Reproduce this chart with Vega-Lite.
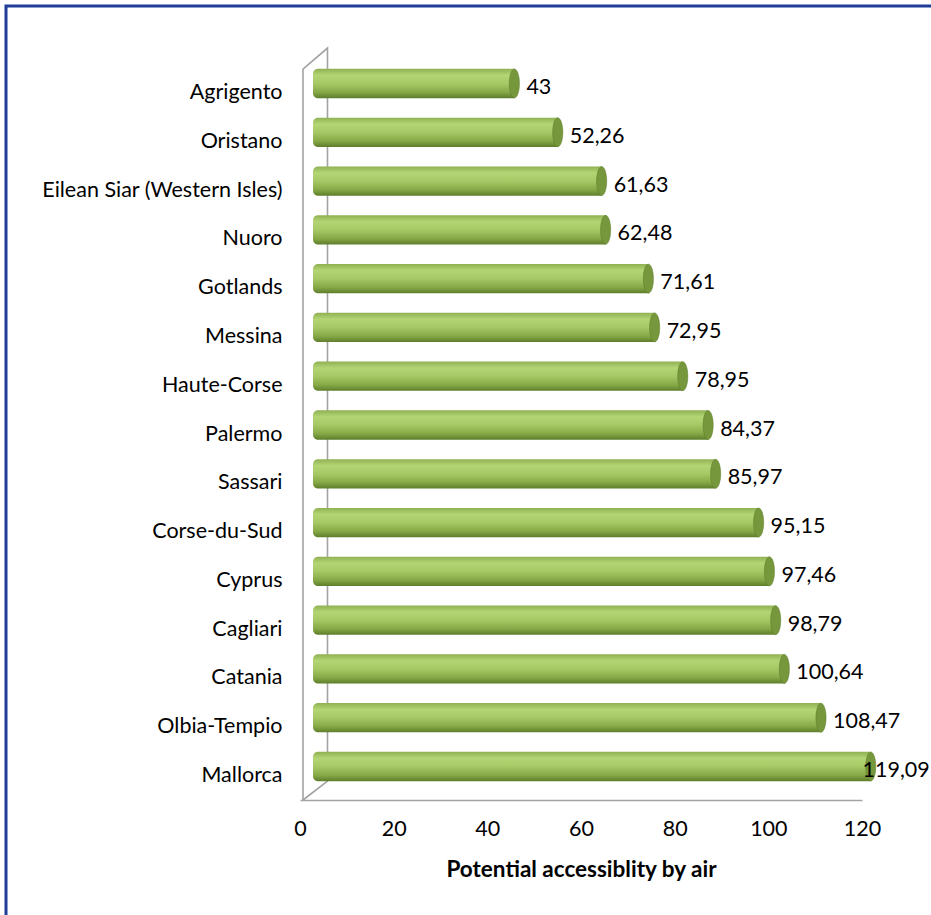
{
  "$schema": "https://vega.github.io/schema/vega-lite/v6.json",
  "autosize": "none",
  "padding": {"left": 6, "top": 6, "right": 0, "bottom": 0},
  "width": 931,
  "height": 915,
  "background": "white",
  "view": {"stroke": "#1f3d99", "strokeWidth": 3},
  "config": {
    "font": "Lato",
    "locale": {"number": {"decimal": ",", "thousands": ".", "grouping": [3], "currency": ["", " €"]}},
    "axis": {"labelColor": "black", "titleColor": "black", "labelFont": "Lato", "titleFont": "Lato"}
  },
  "datasets": {
    "regions": [
      {"region": "Agrigento", "value": 43},
      {"region": "Oristano", "value": 52.26},
      {"region": "Eilean Siar (Western Isles)", "value": 61.63},
      {"region": "Nuoro", "value": 62.48},
      {"region": "Gotlands", "value": 71.61},
      {"region": "Messina", "value": 72.95},
      {"region": "Haute-Corse", "value": 78.95},
      {"region": "Palermo", "value": 84.37},
      {"region": "Sassari", "value": 85.97},
      {"region": "Corse-du-Sud", "value": 95.15},
      {"region": "Cyprus", "value": 97.46},
      {"region": "Cagliari", "value": 98.79},
      {"region": "Catania", "value": 100.64},
      {"region": "Olbia-Tempio", "value": 108.47},
      {"region": "Mallorca", "value": 119.09}
    ],
    "frame": [
      {"fx": 0.64, "fy": 0, "o": 1},
      {"fx": 0.64, "fy": 96.8, "o": 2},
      {"fx": 5.87, "fy": 99.6, "o": 3},
      {"fx": 5.87, "fy": 2.5, "o": 4},
      {"fx": 0.64, "fy": 0, "o": 5}
    ]
  },
  "resolve": {"scale": {"y": "independent"}},
  "layer": [
    {
      "data": {"name": "frame"},
      "mark": {"type": "line", "color": "#a3a3a3", "strokeWidth": 1.6},
      "encoding": {
        "x": {
          "field": "fx", "type": "quantitative",
          "scale": {"domain": [0, 120], "range": [294, 856], "nice": false},
          "axis": {
            "title": "Potential accessiblity by air",
            "values": [0, 20, 40, 60, 80, 100, 120],
            "offset": -121,
            "grid": false, "ticks": false,
            "labelFlush": false,
            "domainColor": "#a3a3a3", "domainWidth": 1.6,
            "labelFontSize": 21.5, "labelPadding": 18,
            "titleFontSize": 22.5, "titleFontWeight": "bold", "titlePadding": 19
          }
        },
        "y": {"field": "fy", "type": "quantitative", "scale": {"domain": [0, 100], "range": [794, 39]}, "axis": null},
        "order": {"field": "o", "type": "quantitative"}
      }
    },
    {
      "data": {"name": "regions"},
      "layer": [
        {
          "mark": {
            "type": "bar",
            "xOffset": 13,
            "x2Offset": 13,
            "yOffset": -9.5,
            "cornerRadiusTopLeft": 5,
            "cornerRadiusBottomLeft": 5,
            "color": {
              "gradient": "linear", "x1": 0, "y1": 0, "x2": 0, "y2": 1,
              "stops": [
                {"offset": 0, "color": "#8fb152"},
                {"offset": 0.22, "color": "#b4d574"},
                {"offset": 0.5, "color": "#a6c865"},
                {"offset": 0.8, "color": "#86a846"},
                {"offset": 1, "color": "#5e7d2b"}
              ]
            }
          },
          "encoding": {
            "y": {
              "field": "region", "type": "nominal", "sort": null,
              "scale": {"range": [62.6, 794.4], "paddingInner": 0.4, "paddingOuter": 0.2},
              "axis": {"title": null, "offset": -294, "domain": false, "ticks": false, "labelPadding": 18, "labelFontSize": 21.5, "labelAlign": "right", "labelLimit": 500}
            },
            "x": {"field": "value", "type": "quantitative"},
            "x2": {"datum": 0}
          }
        },
        {
          "mark": {
            "type": "point", "filled": true, "opacity": 1,
            "shape": "M0,-1A0.35,1,0,1,1,0,1A0.35,1,0,1,1,0,-1Z",
            "size": 841, "xOffset": 13, "yOffset": -9.5,
            "color": "#76973b", "stroke": "#5a7a28", "strokeWidth": 0.5
          },
          "encoding": {
            "y": {"field": "region", "type": "nominal", "sort": null},
            "x": {"field": "value", "type": "quantitative"}
          }
        },
        {
          "transform": [{"filter": "datum.region !== 'Mallorca'"}],
          "mark": {"type": "text", "align": "left", "baseline": "middle", "dx": 25, "dy": -5, "fontSize": 21.5, "color": "black"},
          "encoding": {
            "y": {"field": "region", "type": "nominal", "sort": null},
            "x": {"field": "value", "type": "quantitative"},
            "text": {"field": "value", "type": "quantitative", "format": ".2~f"}
          }
        },
        {
          "transform": [{"filter": "datum.region === 'Mallorca'"}],
          "mark": {"type": "text", "align": "right", "baseline": "middle", "dx": 72, "dy": -5, "fontSize": 21.5, "color": "black"},
          "encoding": {
            "y": {"field": "region", "type": "nominal", "sort": null},
            "x": {"field": "value", "type": "quantitative"},
            "text": {"field": "value", "type": "quantitative", "format": ".2~f"}
          }
        }
      ]
    }
  ]
}
